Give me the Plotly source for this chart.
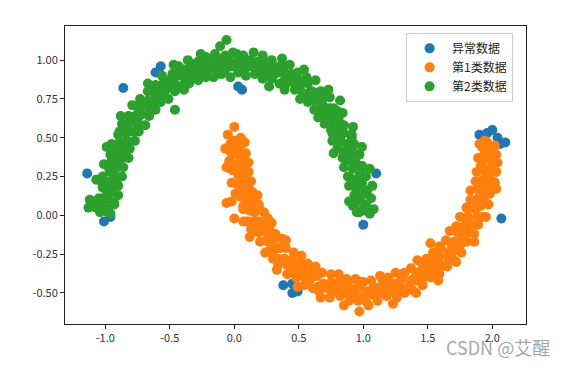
import plotly.graph_objects as go

# ---- data ----
anomaly_pts = [(-1.14,0.27),(-1.01,-0.04),(-0.96,-0.01),(-0.86,0.82),(-0.61,0.92),(-0.57,0.96),
    (0.03,0.83),(0.06,0.81),(1.10,0.27),(1.00,-0.06),(0.38,-0.45),(0.45,-0.44),(0.45,-0.50),
    (0.49,-0.49),(1.90,0.52),(1.96,0.53),(2.00,0.55),(2.04,0.50),(2.06,0.46),(2.10,0.47),(2.07,-0.02)]

class1_pts = [(0.05,0.50),(-0.05,0.52),(0.00,0.57),(-0.03,0.46),(0.00,0.47),(0.08,0.47),
    (-0.07,0.43),(0.03,0.43),(0.09,0.40),(-0.01,0.39),(-0.04,0.35),(0.06,0.37),
    (0.02,0.33),(-0.06,0.31),(0.11,0.34),(0.08,0.30),(-0.01,0.29),(0.03,0.26),(0.11,0.28),
    (-0.02,0.21),(0.08,0.23),(0.13,0.22),(0.04,0.19),(0.09,0.17),(0.01,0.14),
    (0.14,0.15),(0.05,0.12),(-0.02,0.09),(0.10,0.10),(0.18,0.13),(0.07,0.04),(0.15,0.08),
    (0.19,0.07),(0.12,0.03),(0.16,0.02),(0.07,-0.04),(0.23,0.02),(0.14,-0.04),
    (0.20,-0.04),(0.13,-0.09),(0.25,-0.05),(0.17,-0.10),(0.12,-0.14),(0.23,-0.10),(0.29,-0.05),
    (0.20,-0.17),(0.27,-0.11),(0.32,-0.12),(0.26,-0.17),(0.30,-0.17),(0.24,-0.24),
    (0.37,-0.15),(0.30,-0.23),(0.36,-0.21),(0.30,-0.28),(0.40,-0.16),(0.40,-0.21),(0.34,-0.28),
    (0.39,-0.28),(0.33,-0.35),(0.46,-0.24),(0.41,-0.32),(0.46,-0.30),(0.41,-0.38),
    (0.52,-0.26),(0.47,-0.35),(0.53,-0.32),(0.48,-0.40),(0.57,-0.31),(0.53,-0.39),(0.49,-0.46),
    (0.58,-0.37),(0.54,-0.45),(0.63,-0.33),(0.59,-0.41),(0.64,-0.39),(0.61,-0.47),
    (0.68,-0.37),(0.65,-0.46),(0.69,-0.44),(0.67,-0.53),(0.75,-0.38),(0.72,-0.47),
    (0.77,-0.44),(0.74,-0.53),(0.81,-0.38),(0.79,-0.48),(0.83,-0.44),(0.82,-0.52),
    (0.87,-0.41),(0.86,-0.50),(0.85,-0.58),(0.90,-0.47),(0.89,-0.55),(0.94,-0.41),(0.93,-0.50),
    (0.97,-0.46),(0.96,-0.55),(1.00,-0.43),(1.00,-0.52),(0.97,-0.62),(1.03,-0.49),(1.04,-0.58),
    (1.06,-0.42),(1.07,-0.51),(1.10,-0.47),(1.11,-0.55),(1.13,-0.39),(1.14,-0.49),
    (1.17,-0.44),(1.18,-0.52),(1.19,-0.40),(1.21,-0.49),(1.23,-0.57),(1.23,-0.44),(1.26,-0.53),
    (1.25,-0.37),(1.28,-0.46),(1.30,-0.41),(1.32,-0.50),(1.32,-0.37),(1.35,-0.46),
    (1.37,-0.42),(1.41,-0.50),(1.37,-0.34),(1.41,-0.42),(1.42,-0.37),(1.46,-0.45),
    (1.42,-0.29),(1.47,-0.38),(1.48,-0.32),(1.52,-0.40),(1.49,-0.28),(1.54,-0.36),(1.58,-0.42),
    (1.54,-0.30),(1.59,-0.38),(1.54,-0.24),(1.59,-0.31),(1.59,-0.26),(1.65,-0.33),
    (1.60,-0.21),(1.66,-0.28),(1.66,-0.24),(1.72,-0.30),(1.64,-0.16),(1.70,-0.23),
    (1.70,-0.17),(1.76,-0.24),(1.67,-0.10),(1.74,-0.17),(1.73,-0.11),(1.80,-0.17),
    (1.72,-0.07),(1.80,-0.12),(1.86,-0.17),(1.78,-0.07),(1.86,-0.12),(1.75,-0.01),(1.83,-0.06),
    (1.81,-0.01),(1.89,-0.06),(1.81,0.04),(1.88,-0.01),(1.87,0.04),(1.95,-0.01),
    (1.83,0.10),(1.91,0.06),(1.89,0.11),(1.97,0.07),(1.83,0.16),(1.93,0.13),
    (1.89,0.18),(1.98,0.14),(1.87,0.22),(1.96,0.19),(2.03,0.17),(1.93,0.23),(2.02,0.21),
    (1.88,0.28),(1.97,0.26),(1.94,0.30),(2.03,0.28),(1.92,0.34),(2.00,0.32),
    (1.98,0.36),(1.89,0.37),(1.94,0.40),(2.03,0.39),(2.00,0.43),(1.92,0.44),
    (1.96,0.47),(1.90,0.46),(2.02,0.45),(1.52,-0.18),(-0.06,0.08),(0.00,-0.02),(0.26,-0.02),
    (0.00,0.48),(0.05,0.45),(-0.03,0.41),(0.04,0.38),(0.08,0.35),(-0.03,0.30),(0.04,0.28),
    (0.07,0.25),(0.02,0.20),(0.11,0.19),(0.07,0.14),(0.13,0.13),(0.07,0.06),(0.14,0.06),
    (0.19,0.05),(0.10,-0.04),(0.17,-0.04),(0.21,-0.05),(0.19,-0.11),(0.27,-0.09),(0.25,-0.16),
    (0.31,-0.15),(0.27,-0.23),(0.34,-0.21),(0.39,-0.20),(0.34,-0.32),(0.40,-0.29),(0.45,-0.29),
    (0.44,-0.36),(0.52,-0.31),(0.52,-0.37),(0.57,-0.35),(0.56,-0.43),(0.62,-0.39),(0.67,-0.37),
    (0.66,-0.49),(0.71,-0.45),(0.75,-0.43),(0.77,-0.49),(0.82,-0.42),(0.84,-0.49),(0.88,-0.44),
    (0.91,-0.53),(0.95,-0.47),(0.98,-0.43),(1.02,-0.55),(1.05,-0.49),(1.08,-0.46),(1.12,-0.51),
    (1.15,-0.43),(1.19,-0.48),(1.21,-0.43),(1.27,-0.49),(1.28,-0.43),(1.30,-0.38),(1.38,-0.48),
    (1.39,-0.41),(1.41,-0.37),(1.46,-0.41),(1.46,-0.32),(1.52,-0.36),(1.52,-0.30),(1.59,-0.34),
    (1.58,-0.27),(1.59,-0.20),(1.69,-0.28),(1.68,-0.22),(1.68,-0.18),(1.75,-0.19),(1.73,-0.09),
    (1.78,-0.13),(1.76,-0.08),(1.84,-0.09),(1.81,-0.03),(1.80,0.05),(1.92,-0.01),(1.88,0.05),
    (1.87,0.09),(1.94,0.09),(1.88,0.17),(1.95,0.17),(1.93,0.21),(2.00,0.22),(1.95,0.28),
    (1.91,0.32),(2.04,0.34),(1.98,0.38),(1.96,0.42),(2.01,0.44),(1.94,0.48)]

class2_pts = [(0.95,0.02),(1.05,0.01),(0.99,0.03),(1.08,0.04),(0.92,0.06),(1.02,0.07),
    (0.97,0.10),(1.06,0.11),(0.89,0.09),(0.93,0.13),(1.02,0.14),(0.98,0.17),(1.07,0.19),
    (0.89,0.19),(0.99,0.21),(0.93,0.23),(1.02,0.25),(0.88,0.25),(0.97,0.28),(1.05,0.30),
    (0.92,0.30),(0.99,0.32),(0.85,0.31),(0.94,0.34),(0.88,0.36),(0.97,0.39),
    (0.84,0.37),(0.92,0.41),(0.99,0.44),(0.87,0.42),(0.93,0.46),(0.80,0.43),(0.87,0.46),
    (0.82,0.48),(0.91,0.52),(0.76,0.48),(0.85,0.53),(0.92,0.57),(0.80,0.54),(0.85,0.58),
    (0.75,0.55),(0.82,0.59),(0.77,0.60),(0.84,0.66),(0.70,0.59),(0.77,0.64),(0.80,0.67),
    (0.71,0.64),(0.77,0.69),(0.65,0.63),(0.71,0.69),(0.67,0.69),(0.74,0.76),
    (0.62,0.68),(0.68,0.75),(0.73,0.81),(0.62,0.74),(0.67,0.80),(0.57,0.73),(0.62,0.79),
    (0.58,0.79),(0.63,0.87),(0.51,0.75),(0.57,0.85),(0.51,0.81),(0.56,0.89),
    (0.47,0.81),(0.50,0.87),(0.54,0.94),(0.45,0.86),(0.49,0.92),(0.39,0.81),(0.44,0.91),
    (0.39,0.87),(0.43,0.97),(0.35,0.85),(0.38,0.95),(0.34,0.92),(0.37,1.01),
    (0.29,0.88),(0.31,0.96),(0.27,0.83),(0.26,0.92),(0.29,1.00),(0.22,0.88),(0.24,0.96),
    (0.20,0.93),(0.22,1.03),(0.16,0.91),(0.18,0.99),(0.13,0.96),(0.15,1.05),
    (0.09,0.90),(0.11,0.99),(0.07,0.95),(0.07,1.03),(0.03,0.92),(0.03,0.99),
    (0.00,0.96),(-0.01,1.05),(-0.06,1.13),(-0.11,1.09),(-0.03,0.89),(-0.04,1.00),
    (-0.07,0.94),(-0.07,1.03),(-0.10,0.91),(-0.10,0.98),(-0.13,0.94),(-0.15,1.04),
    (-0.16,0.89),(-0.17,0.99),(-0.20,0.94),(-0.22,1.02),(-0.22,0.89),(-0.24,0.97),(-0.26,1.04),
    (-0.27,0.92),(-0.28,0.99),(-0.28,0.87),(-0.31,0.94),(-0.32,0.89),(-0.36,1.00),
    (-0.35,0.85),(-0.38,0.94),(-0.39,0.89),(-0.43,0.96),(-0.39,0.81),(-0.44,0.90),(-0.47,0.97),
    (-0.45,0.84),(-0.48,0.91),(-0.46,0.80),(-0.50,0.87),(-0.51,0.82),(-0.56,0.90),
    (-0.51,0.75),(-0.56,0.84),(-0.56,0.78),(-0.61,0.84),(-0.57,0.73),(-0.62,0.79),(-0.67,0.85),
    (-0.62,0.74),(-0.67,0.80),(-0.61,0.68),(-0.67,0.74),(-0.66,0.68),(-0.73,0.75),
    (-0.66,0.64),(-0.73,0.70),(-0.72,0.65),(-0.79,0.71),(-0.69,0.58),(-0.77,0.64),
    (-0.75,0.59),(-0.82,0.64),(-0.74,0.54),(-0.82,0.59),(-0.88,0.64),(-0.80,0.54),(-0.87,0.59),
    (-0.77,0.48),(-0.85,0.53),(-0.83,0.48),(-0.90,0.52),(-0.81,0.43),(-0.89,0.47),
    (-0.87,0.42),(-0.95,0.46),(-0.82,0.37),(-0.91,0.41),(-0.99,0.44),(-0.88,0.36),(-0.96,0.39),
    (-0.86,0.31),(-0.95,0.35),(-0.92,0.30),(-1.01,0.33),(-0.87,0.25),(-0.96,0.28),
    (-0.92,0.23),(-1.02,0.25),(-0.90,0.19),(-0.99,0.21),(-1.07,0.23),(-0.95,0.17),(-1.02,0.18),
    (-0.90,0.13),(-0.99,0.14),(-0.97,0.10),(-1.05,0.11),(-0.93,0.07),(-1.02,0.07),(-1.10,0.08),
    (-0.98,0.04),(-1.07,0.05),(-0.96,0.01),(-1.04,0.02),(-1.13,0.05),(-1.12,0.10),
    (-0.46,0.68),(0.82,0.74),(0.77,0.40),
    (0.97,0.02),(1.01,0.05),(0.94,0.08),(0.98,0.12),(1.03,0.16),(0.94,0.18),(0.97,0.23),
    (0.90,0.24),(0.98,0.30),(0.93,0.32),(0.91,0.35),(0.93,0.39),(0.85,0.40),(0.88,0.45),
    (0.91,0.50),(0.82,0.49),(0.84,0.54),(0.76,0.53),(0.81,0.61),(0.76,0.62),(0.73,0.64),
    (0.74,0.69),(0.66,0.66),(0.68,0.72),(0.68,0.78),(0.60,0.75),(0.60,0.80),(0.53,0.76),
    (0.56,0.86),(0.50,0.84),(0.47,0.85),(0.46,0.90),(0.40,0.85),(0.39,0.91),(0.37,0.97),
    (0.31,0.91),(0.29,0.96),(0.24,0.90),(0.23,0.99),(0.19,0.96),(0.15,0.96),(0.12,1.00),
    (0.08,0.94),(0.05,0.99),(0.02,1.04),(-0.02,0.96),(-0.05,1.00),(-0.08,0.93),(-0.12,1.01),
    (-0.15,0.97),(-0.19,0.95),(-0.23,0.98),(-0.24,0.91),(-0.29,0.95),(-0.34,0.98),(-0.34,0.90),
    (-0.39,0.92),(-0.39,0.84),(-0.46,0.91),(-0.48,0.86),(-0.50,0.83),(-0.55,0.85),(-0.54,0.77),
    (-0.60,0.79),(-0.65,0.81),(-0.63,0.72),(-0.68,0.73),(-0.66,0.66),(-0.75,0.70),(-0.74,0.64),
    (-0.75,0.61),(-0.81,0.61),(-0.77,0.54),(-0.83,0.54),(-0.89,0.54),(-0.84,0.47),(-0.89,0.45),
    (-0.84,0.39),(-0.94,0.40),(-0.91,0.35),(-0.92,0.32),(-0.97,0.30),(-0.91,0.24),(-0.96,0.22),
    (-1.02,0.20),(-0.95,0.15),(-0.99,0.12),(-0.93,0.08),(-1.02,0.05),(-0.98,0.02)]

series_names = ["异常数据", "第1类数据", "第2类数据"]
series_colors = ["#1f77b4", "#ff7f0e", "#2ca02c"]

x_ticks = [-1.0, -0.5, 0.0, 0.5, 1.0, 1.5, 2.0]
x_tick_labels = ["-1.0", "-0.5", "0.0", "0.5", "1.0", "1.5", "2.0"]
y_ticks = [1.0, 0.75, 0.5, 0.25, 0.0, -0.25, -0.5]
y_tick_labels = ["1.00", "0.75", "0.50", "0.25", "0.00", "-0.25", "-0.50"]

watermark = "CSDN @艾醒"

FONT = "Noto Sans CJK SC"

fig = go.Figure()
for pts, name, color in zip([anomaly_pts, class1_pts, class2_pts], series_names, series_colors):
    fig.add_trace(go.Scatter(
        x=[p[0] for p in pts], y=[p[1] for p in pts],
        mode="markers", name=name,
        marker=dict(color=color, size=10, line=dict(width=0)),
    ))

axis_common = dict(
    showline=True, mirror=True, linecolor="#222", linewidth=1,
    showgrid=False, zeroline=False,
    ticks="outside", ticklen=4, tickwidth=1, tickcolor="#222",
    tickfont=dict(family=FONT, size=11, color="#333"),
)

# the page body adds an 8px offset, so the figure is sized for the remaining area
fig.update_layout(
    width=553, height=351,
    margin=dict(l=57, r=35, t=18, b=35),
    paper_bgcolor="white", plot_bgcolor="white",
    xaxis=dict(range=[-1.312, 2.261], tickvals=x_ticks, ticktext=x_tick_labels, **axis_common),
    yaxis=dict(range=[-0.700, 1.220], tickvals=y_ticks, ticktext=y_tick_labels, **axis_common),
    legend=dict(
        x=0.972, y=0.977, xanchor="right", yanchor="top",
        bgcolor="rgba(255,255,255,0.8)", bordercolor="#cccccc", borderwidth=1,
        font=dict(family=FONT, size=12, color="#222"),
        tracegroupgap=0, itemwidth=35,
    ),
    showlegend=True,
    annotations=[dict(
        text=watermark, xref="paper", yref="paper", x=0.939, y=-0.078,
        xanchor="center", yanchor="middle", showarrow=False,
        font=dict(family=FONT, size=18, color="rgba(150,150,150,0.85)"),
    )],
)

fig.write_html("out.html")
